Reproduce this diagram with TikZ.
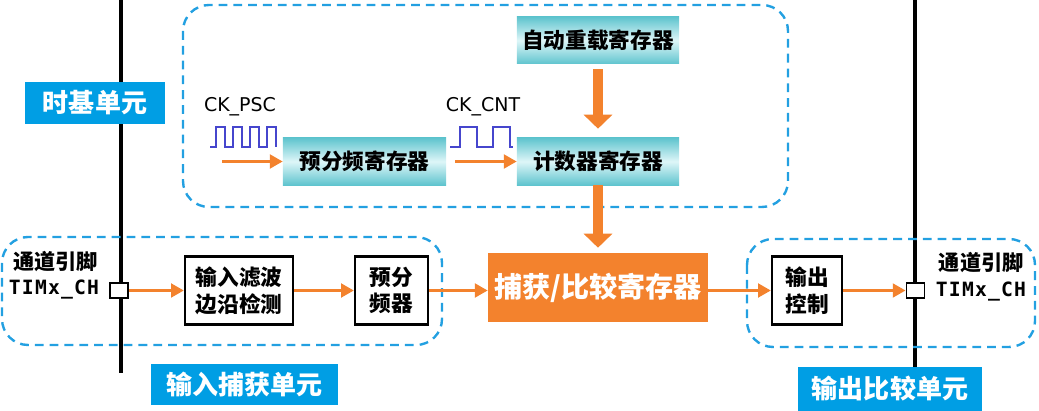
\documentclass[tikz,border=0pt]{standalone}
\usepackage{fontspec}
\setmainfont{Noto Sans CJK SC}
\newfontfamily\clkfont{DejaVu Sans}
\newfontfamily\pinfont{DejaVu Sans Mono}[LetterSpace=6]
\usepackage{xcolor}
\usetikzlibrary{positioning, arrows.meta}
\definecolor{unitblue}{RGB}{0,158,228}
\definecolor{frameblue}{RGB}{35,160,225}
\definecolor{flow}{RGB}{243,130,45}
\definecolor{tealedge}{RGB}{95,196,206}
\definecolor{tealmid}{RGB}{222,246,248}
\definecolor{clkwave}{RGB}{70,70,205}
\tikzset{
    timer/.style={
        x=0.025cm, y=-0.025cm,
        unitlabel/.style={rectangle, fill=unitblue, text=white, inner sep=0pt, font=\fontsize{18.5}{22}\selectfont\bfseries},
        reg/.style={rectangle, inner sep=0pt, top color=tealedge, bottom color=tealedge, middle color=tealmid, minimum width=4.075cm, minimum height=1.175cm, font=\fontsize{15.4}{19}\selectfont\bfseries},
        ccreg/.style={rectangle, inner sep=0pt, fill=flow, text=white, minimum width=5.5cm, minimum height=1.725cm, font=\fontsize{20}{24}\selectfont\bfseries},
        stage/.style={draw, line width=1.6pt, fill=white, align=center, inner sep=0pt, minimum height=1.7cm, font=\fontsize{15.4}{19}\selectfont\bfseries},
        pinbox/.style={draw, line width=1.3pt, fill=white, minimum width=0.45cm, minimum height=0.375cm, inner sep=0pt},
        unitframe/.style={draw=frameblue, line width=1.7pt, dash pattern=on 0.22cm off 0.15cm, rounded corners=0.65cm},
        bus/.style={line width=2.2pt},
        flowline/.style={flow, line width=0.075cm, -{Triangle[length=0.32cm, width=0.34cm]}},
        flowbig/.style={flow, line width=0.25cm, -{Triangle[length=0.35cm, width=0.7cm]}},
        wave/.style={clkwave, line width=0.8pt},
        clklabel/.style={font=\clkfont\fontsize{13.5}{16}\selectfont},
        pinlabel/.style={font=\fontsize{15}{18}\selectfont\bfseries},
        pinname/.style={font=\pinfont\fontsize{14}{16}\selectfont\bfseries}
    }
}
\begin{document}
\begin{tikzpicture}[timer]
    \useasboundingbox (0,0) rectangle (1039,411);

    % Channel pin buses
    \draw[bus] (121,0) -- (121,373);
    \draw[bus] (915,0) -- (915,367);

    % Unit frames
    \draw[unitframe] (183,5) rectangle (788,207);
    \draw[unitframe] (2,237) rectangle (442,345);
    \draw[unitframe] (747,239) rectangle (1035,347);

    % Time base unit
    \node[unitlabel, minimum width=3.5cm, minimum height=1.05cm] (tbunit) at (95,103) {时基单元};
    \node[reg] (psc) at (364.5,161.5) {预分频寄存器};
    \node[reg, minimum width=4.05cm] (arr) at (598,40.5) {自动重载寄存器};
    \node[reg, minimum width=4.05cm] (cnt) at (598,161.5) {计数器寄存器};

    % Clocks
    \node[clklabel] (ckpsc) at (240,107) {CK\_PSC};
    \node[clklabel] (ckcnt) at (483,107) {CK\_CNT};
    \draw[wave] (210,147) -- (216,147) -- (216,127) -- (225,127) -- (225,147)
        -- (233,147) -- (233,127) -- (242,127) -- (242,147)
        -- (250,147) -- (250,127) -- (259,127) -- (259,147)
        -- (267,147) -- (267,127) -- (276,127) -- (276,147);
    \draw[wave] (450,147) -- (460,147) -- (460,127) -- (477,127) -- (477,147)
        -- (493,147) -- (493,127) -- (510,127) -- (510,147) -- (513,147);
    \coordinate (pscin) at (222,161.5);
    \coordinate (cntin) at (455,161.5);
    \draw[flowline] (pscin) -- (psc.west);
    \draw[flowline] (cntin) -- (cnt.west);

    % Capture/compare register
    \node[ccreg] (ccr) at (598,287.5) {捕获/比较寄存器};
    \draw[flowbig, shorten <=0.125cm, shorten >=0.225cm] (arr.south) -- (cnt.north);
    \draw[flowbig, shorten >=0.125cm] (cnt.south) -- (ccr.north);

    % Input capture unit
    \node[pinbox] (pinin) at (119,290.5) {};
    \node[pinname, anchor=east] (chin) at (104,290) {TIMx\_CH};
    \node[pinlabel, anchor=east] (lblin) at (103,262) {通道引脚};
    \node[stage, minimum width=2.7cm] (filt) at (239,290.5) {输入滤波\\边沿检测};
    \node[stage, minimum width=1.825cm] (icpsc) at (391.5,290.5) {预分\\频器};
    \node[unitlabel, minimum width=4.675cm, minimum height=1.025cm] (icunit) at (244.5,384.5) {输入捕获单元};
    \draw[flowline] (pinin.east) -- (filt.west);
    \draw[flowline] (filt.east) -- (icpsc.west);
    \draw[flowline] (icpsc.east) -- (icpsc.east -| ccr.west);

    % Output compare unit
    \node[stage, minimum width=1.75cm] (outctl) at (807,290.5) {输出\\控制};
    \node[pinbox] (pinout) at (915.5,290.5) {};
    \node[pinname, anchor=west] (chout) at (931,292) {TIMx\_CH};
    \node[pinlabel, anchor=west] (lblout) at (934,263) {通道引脚};
    \node[unitlabel, minimum width=4.6cm, minimum height=1.1cm] (ocunit) at (890,389) {输出比较单元};
    \draw[flowline] (outctl.west -| ccr.east) -- (outctl.west);
    \draw[flowline] (outctl.east) -- (pinout.west);
\end{tikzpicture}
\end{document}
